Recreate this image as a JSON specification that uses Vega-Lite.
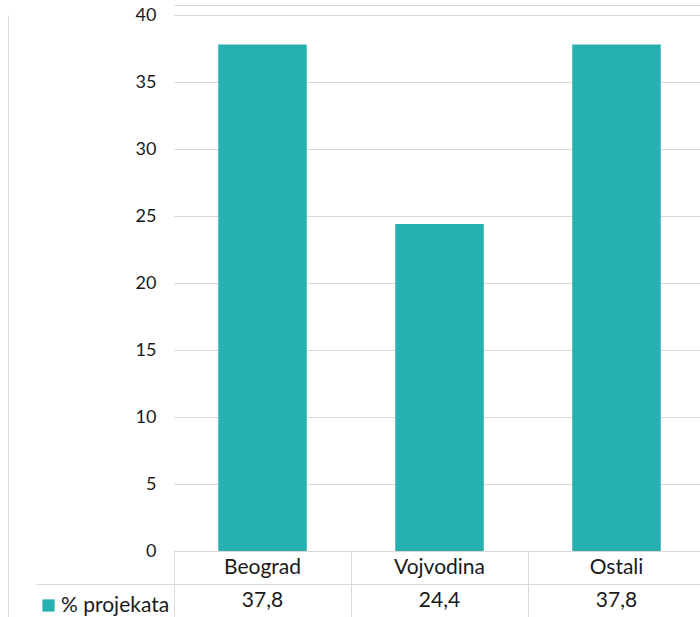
{
  "$schema": "https://vega.github.io/schema/vega-lite/v6.json",
  "padding": {"left": 7, "top": 5, "right": 0, "bottom": 0},
  "background": "white",
  "spacing": 0,
  "bounds": "flush",
  "config": {
    "font": "Lato",
    "concat": {"spacing": 0}
  },
  "datasets": {
    "main": [
      {"region": "Beograd", "value": 37.8},
      {"region": "Vojvodina", "value": 24.4},
      {"region": "Ostali", "value": 37.8}
    ]
  },
  "resolve": {"scale": {"x": "shared"}},
  "vconcat": [
    {
      "width": 531,
      "height": 536,
      "view": {"stroke": null},
      "data": {"name": "main"},
      "mark": {"type": "bar", "width": {"band": 0.5}},
      "encoding": {
        "x": {"field": "region", "type": "nominal", "sort": null,
              "scale": {"type": "band", "paddingInner": 0, "paddingOuter": 0},
              "axis": {"orient": "top", "offset": 10, "title": null, "labels": false, "ticks": false,
                       "domain": true, "domainColor": "#D9D9D9", "grid": false}},
        "y": {"field": "value", "type": "quantitative",
              "scale": {"domain": [0, 40]},
              "axis": {"values": [0, 5, 10, 15, 20, 25, 30, 35, 40], "title": null,
                       "domain": true, "domainColor": "#D9D9D9", "offset": 166,
                       "ticks": false, "labelPadding": -148, "gridColor": "#D9D9D9",
                       "labelFontSize": 18, "labelFont": "Lato", "labelColor": "#1a1a1a"}},
        "color": {"datum": "% projekata", "type": "nominal",
                  "scale": {"range": ["#26B0B0"]},
                  "legend": {"orient": "none", "legendX": -136, "legendY": 580, "title": null,
                             "symbolType": "square", "symbolSize": 150, "symbolStrokeWidth": 0,
                             "labelFontSize": 21, "labelFont": "Lato", "labelColor": "#1a1a1a",
                             "labelOffset": 2}}
      }
    },
    {
      "width": 531,
      "height": 67,
      "view": {"stroke": "#D9D9D9"},
      "data": {"name": "main"},
      "transform": [
        {"calculate": "replace(format(datum.value, '.1f'), '.', ',')", "as": "label"}
      ],
      "encoding": {
        "x": {"field": "region", "type": "nominal", "sort": null,
              "scale": {"type": "band", "paddingInner": 0, "paddingOuter": 0},
              "axis": {"title": null, "labels": false, "ticks": false, "domain": false,
                       "grid": true, "bandPosition": 0, "gridColor": "#D9D9D9"}}
      },
      "resolve": {"scale": {"y": "independent"}, "axis": {"y": "independent"}},
      "layer": [
        {
          "mark": {"type": "text", "fontSize": 21, "font": "Lato", "color": "#1a1a1a"},
          "encoding": {
            "y": {"datum": "cat", "type": "nominal",
                  "scale": {"type": "band", "domain": ["cat", "val"], "paddingInner": 0, "paddingOuter": 0},
                  "axis": {"orient": "left", "offset": 166, "title": null, "labels": false,
                           "ticks": false, "grid": false, "domain": true, "domainColor": "#D9D9D9"}},
            "text": {"field": "region"}
          }
        },
        {
          "mark": {"type": "text", "fontSize": 21, "font": "Lato", "color": "#1a1a1a"},
          "encoding": {
            "y": {"datum": "val", "type": "nominal",
                  "scale": {"type": "band", "domain": ["cat", "val"], "paddingInner": 0, "paddingOuter": 0},
                  "axis": {"orient": "left", "values": ["val"], "bandPosition": 0, "title": null,
                           "labels": false, "domain": false, "ticks": true, "tickSize": 138,
                           "tickColor": "#D9D9D9", "grid": true, "gridColor": "#D9D9D9"}},
            "text": {"field": "label"}
          }
        }
      ]
    }
  ]
}
